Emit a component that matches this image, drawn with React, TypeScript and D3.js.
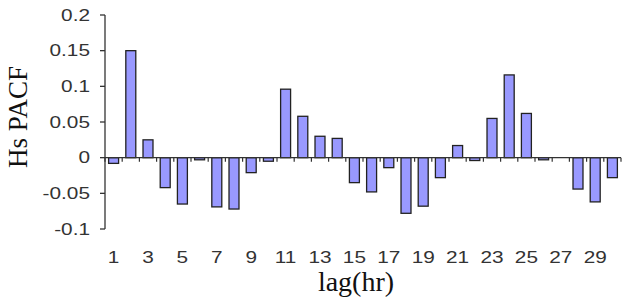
// Hs PACF bar chart - lags 1..30
import React, { useEffect, useRef } from 'react';
import * as d3 from 'd3';

const lags = d3.range(1, 31);
const pacf = [
  -0.008, 0.15, 0.025, -0.042, -0.065, -0.003, -0.069, -0.072, -0.021, -0.005,
  0.096, 0.058, 0.03, 0.027, -0.035, -0.048, -0.014, -0.078, -0.068, -0.028,
  0.017, -0.004, 0.055, 0.116, 0.062, -0.003, 0.0, -0.044, -0.062, -0.028
];
const yTicks = [-0.1, -0.05, 0, 0.05, 0.1, 0.15, 0.2];
const xLabels = lags.filter(d => d % 2 === 1);

const App: React.FC = () => {
  const svgRef = useRef<SVGSVGElement>(null);

  useEffect(() => {
    if (!svgRef.current) return;
    const svg = d3.select(svgRef.current);
    svg.selectAll('*').remove();

    const x = d3.scaleBand<number>()
      .domain(lags)
      .range([105, 621])
      .paddingInner(0.42)
      .paddingOuter(0.21);

    const y = d3.scaleLinear()
      .domain([-0.1, 0.2])
      .range([229, 15]);

    const sans = 'Arial, "Liberation Sans", sans-serif';
    const serif = '"Times New Roman", "Liberation Serif", serif';
    // tick labels in the source are stretched sideways
    const stretch = 1.3;

    // Bars
    svg.append('g')
      .selectAll('rect')
      .data(lags)
      .enter()
      .append('rect')
      .attr('x', d => x(d)!)
      .attr('width', x.bandwidth())
      .attr('y', (d, i) => y(Math.max(0, pacf[i])))
      .attr('height', (d, i) => Math.abs(y(pacf[i]) - y(0)))
      .attr('fill', '#9999ff')
      .attr('stroke', '#222')
      .attr('stroke-width', 1.3);

    // Y axis
    const yAxis = svg.append('g');
    yAxis.append('line')
      .attr('x1', 105).attr('x2', 105)
      .attr('y1', y(0.2)).attr('y2', y(-0.1))
      .attr('stroke', '#333').attr('stroke-width', 1.3);
    yTicks.forEach(t => {
      yAxis.append('line')
        .attr('x1', 100).attr('x2', 105)
        .attr('y1', y(t)).attr('y2', y(t))
        .attr('stroke', '#333').attr('stroke-width', 1.3);
      yAxis.append('text')
        .attr('transform', `translate(90,${y(t)}) scale(${stretch},1)`)
        .attr('text-anchor', 'end')
        .attr('dominant-baseline', 'central')
        .attr('font-family', sans)
        .attr('font-size', '16px')
        .attr('fill', '#333')
        .text(t === 0 ? '0' : String(t));
    });

    // X axis at zero with downward ticks at category boundaries
    const step = x.step();
    const xAxis = svg.append('g');
    xAxis.append('line')
      .attr('x1', 105).attr('x2', 621)
      .attr('y1', y(0)).attr('y2', y(0))
      .attr('stroke', '#333').attr('stroke-width', 1.3);
    d3.range(0, lags.length + 1).forEach(i => {
      const xx = 105 + i * step;
      xAxis.append('line')
        .attr('x1', xx).attr('x2', xx)
        .attr('y1', y(0)).attr('y2', y(0) + 4)
        .attr('stroke', '#333').attr('stroke-width', 1.2);
    });
    xLabels.forEach(l => {
      xAxis.append('text')
        .attr('transform', `translate(${x(l)! + x.bandwidth() / 2},257) scale(${stretch},1)`)
        .attr('text-anchor', 'middle')
        .attr('dominant-baseline', 'central')
        .attr('font-family', sans)
        .attr('font-size', '16px')
        .attr('fill', '#333')
        .text(String(l));
    });

    // Axis titles
    svg.append('text')
      .attr('x', 356)
      .attr('y', 291)
      .attr('text-anchor', 'middle')
      .attr('font-family', serif)
      .attr('font-size', '28px')
      .attr('fill', '#111')
      .text('lag(hr)');

    svg.append('text')
      .attr('transform', `translate(27,117) rotate(-90)`)
      .attr('text-anchor', 'middle')
      .attr('font-family', serif)
      .attr('font-size', '27px')
      .attr('fill', '#111')
      .text('Hs PACF');
  }, []);

  return (
    <svg
      ref={svgRef}
      width={622}
      height={304}
      style={{ position: 'absolute', left: 0, top: 0, background: '#fff' }}
    />
  );
};

export default App;
